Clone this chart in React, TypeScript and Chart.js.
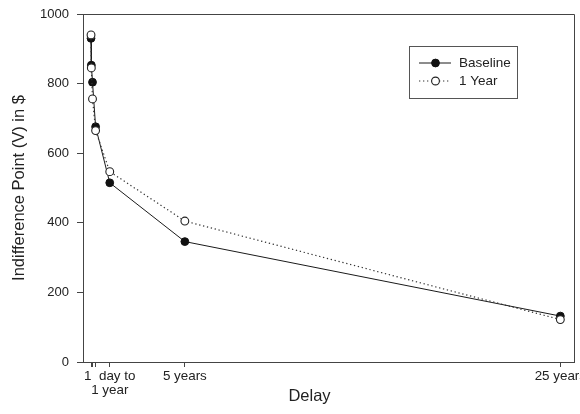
import React, { useEffect, useRef } from "react";
import { Chart, registerables } from "chart.js";

Chart.register(...registerables);

// Delay in days
const delayDays = [1, 7, 30, 90, 365, 1825, 9125];
const baselineValues = [930, 853, 804, 676, 515, 346, 132];
const oneYearValues = [940, 845, 756, 665, 547, 405, 122];

const seriesLabels = ["Baseline", "1 Year"];
const xTickDays = [1, 30, 90, 365, 1825, 9125];
const xTickLabels: (string | string[])[] = ["", "", "", ["1  day to", "1 year"], "5 years", "25 years"];
const yTickValues = [0, 200, 400, 600, 800, 1000];
const xTitle = "Delay";
const yTitle = "Indifference Point (V) in $";

const FONT = "'Liberation Sans', Arial, sans-serif";
const AXIS = "#444";
const TEXT = "#222";

const framePlugin = {
  id: "frameAndLegend",
  afterDraw(chart: any) {
    const { ctx, chartArea } = chart;
    ctx.save();
    // top and right frame lines
    ctx.strokeStyle = AXIS;
    ctx.lineWidth = 1;
    ctx.beginPath();
    ctx.moveTo(chartArea.left, Math.round(chartArea.top) + 0.5);
    ctx.lineTo(Math.round(chartArea.right) - 0.5, Math.round(chartArea.top) + 0.5);
    ctx.lineTo(Math.round(chartArea.right) - 0.5, chartArea.bottom);
    ctx.stroke();

    // x title
    ctx.fillStyle = TEXT;
    ctx.font = `16.5px ${FONT}`;
    ctx.textAlign = "center";
    ctx.textBaseline = "middle";
    ctx.fillText(xTitle, 309.5, 396);

    // legend
    ctx.strokeStyle = "#555";
    ctx.lineWidth = 1;
    ctx.strokeRect(409.5, 46.5, 108, 52);
    const rows = [63, 81];
    chart.data.datasets.forEach((ds: any, i: number) => {
      const y = rows[i];
      ctx.save();
      ctx.strokeStyle = ds.borderColor;
      ctx.lineWidth = ds.borderWidth;
      ctx.setLineDash(ds.borderDash || []);
      ctx.beginPath();
      ctx.moveTo(419, y);
      ctx.lineTo(451, y);
      ctx.stroke();
      ctx.restore();
      ctx.beginPath();
      ctx.arc(435.5, y, ds.pointRadius, 0, Math.PI * 2);
      ctx.fillStyle = ds.pointBackgroundColor;
      ctx.fill();
      ctx.strokeStyle = ds.pointBorderColor;
      ctx.lineWidth = ds.pointBorderWidth;
      ctx.stroke();
      ctx.fillStyle = TEXT;
      ctx.font = `13.5px ${FONT}`;
      ctx.textAlign = "left";
      ctx.textBaseline = "middle";
      ctx.fillText(ds.label, 459, y + 0.5);
    });
    ctx.restore();
  },
};

export default function App() {
  const canvasRef = useRef<HTMLCanvasElement | null>(null);

  useEffect(() => {
    if (!canvasRef.current) return;
    const chart = new Chart(canvasRef.current, {
      type: "line",
      data: {
        datasets: [
          {
            label: seriesLabels[0],
            data: delayDays.map((d, i) => ({ x: d, y: baselineValues[i] })),
            borderColor: "#1a1a1a",
            borderWidth: 1,
            pointRadius: 3.9,
            pointBackgroundColor: "#111",
            pointBorderColor: "#111",
            pointBorderWidth: 1,
            order: 1,
          } as any,
          {
            label: seriesLabels[1],
            data: delayDays.map((d, i) => ({ x: d, y: oneYearValues[i] })),
            borderColor: "#333",
            borderWidth: 1.2,
            borderDash: [1.3, 2.7],
            pointRadius: 3.9,
            pointBackgroundColor: "#fff",
            pointBorderColor: "#222",
            pointBorderWidth: 1.1,
            order: 0,
          } as any,
        ],
      },
      options: {
        animation: false,
        responsive: false,
        layout: { padding: { left: 0, top: 14, right: 1, bottom: 0 } },
        plugins: { legend: { display: false }, tooltip: { enabled: false } },
        scales: {
          x: {
            type: "linear",
            min: -155,
            max: 9408,
            afterBuildTicks: (scale: any) => {
              scale.ticks = xTickDays.map((v) => ({ value: v }));
            },
            afterFit: (scale: any) => {
              scale.height = 52;
              scale.paddingLeft = 0;
              scale.paddingRight = 0;
            },
            grid: { drawOnChartArea: false, tickLength: 5, color: AXIS, tickColor: AXIS },
            border: { color: AXIS, width: 1 },
            ticks: {
              autoSkip: false,
              maxRotation: 0,
              minRotation: 0,
              padding: 2,
              color: TEXT,
              font: { family: FONT, size: 13.4, lineHeight: 1.06 },
              callback: (_v: any, i: number) => xTickLabels[i],
            },
            title: { display: false },
          },
          y: {
            type: "linear",
            min: 0,
            max: 1000,
            afterBuildTicks: (scale: any) => {
              scale.ticks = yTickValues.map((v) => ({ value: v }));
            },
            afterFit: (scale: any) => {
              scale.width = 83;
              scale.paddingTop = 0;
              scale.paddingBottom = 0;
            },
            grid: { drawOnChartArea: false, tickLength: 6, color: AXIS, tickColor: AXIS },
            border: { color: AXIS, width: 1 },
            ticks: {
              padding: 8,
              color: TEXT,
              font: { family: FONT, size: 13 },
              callback: (v: any) => String(v),
            },
            title: {
              display: true,
              text: yTitle,
              color: TEXT,
              font: { family: FONT, size: 16.5 },
              padding: { top: 10, bottom: 0 },
            },
          },
        },
      },
      plugins: [framePlugin],
    } as any);
    return () => chart.destroy();
  }, []);

  return (
    <div style={{ position: "fixed", left: 0, top: 0, width: 580, height: 414, overflow: "hidden", background: "#fff" }}>
      <canvas ref={canvasRef} width={580} height={414} style={{ width: 580, height: 414, display: "block" }} />
    </div>
  );
}
